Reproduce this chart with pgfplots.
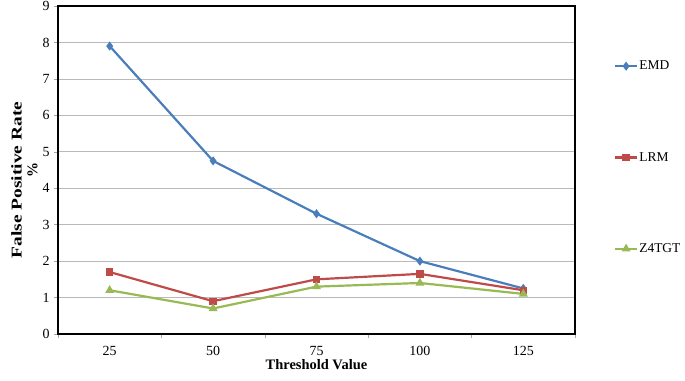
\documentclass[border=0pt]{standalone}
\usepackage{fontspec}
\setmainfont{Liberation Serif}
\usepackage{pgfplots}
\pgfplotsset{compat=1.18}
\usetikzlibrary{calc}
\definecolor{cEMD}{RGB}{74,126,187}
\definecolor{cLRM}{RGB}{190,75,72}
\definecolor{cZ}{RGB}{152,185,84}
\begin{document}
\begin{tikzpicture}
\begin{axis}[name=ax,
  scale only axis, width=517bp, height=328bp,
  xmin=-0.5, xmax=4.5, ymin=0, ymax=9,
  xtick={0,1,2,3,4}, xticklabels={25,50,75,100,125},
  minor xtick={-0.5,0.5,1.5,2.5,3.5,4.5},
  ytick={0,1,...,9},
  tick align=outside, major tick length=4bp, minor tick length=4bp,
  xtick style={draw=none}, minor x tick style={draw=gray!70, thin},
  y tick style={draw=gray!70, thin},
  axis line style={line width=2.6pt, black},
  ymajorgrids, grid style={gray!55, line width=0.6pt},
  xtick pos=bottom, ytick pos=left,
  tick label style={font=\fontsize{14}{15}\selectfont},
  /pgf/number format/assume math mode=true,
  xticklabel style={yshift=-5bp},
  yticklabel style={xshift=-1bp},
  xlabel={\textbf{Threshold Value}},
  xlabel style={font=\fontsize{14.5}{15}\selectfont, yshift=3bp},
  ylabel={\hspace*{-20bp}\scalebox{1.3}[1]{\textbf{False Positive Rate}}\\\textbf{\%}},
  ylabel style={font=\fontsize{15}{16}\selectfont, align=center, yshift=-2bp},
  legend style={at={(1.07,0.845)}, anchor=north west, draw=none, fill=none,
    row sep=77bp, font=\fontsize{13.5}{14}\selectfont,
    nodes={inner xsep=1.5bp}},
  legend cell align=left,
  legend image code/.code={\draw[#1,mark=none] (0cm,0cm) -- (0.75cm,0cm); \draw[#1,only marks] plot coordinates {(0.375cm,0cm)};},
]
\addplot[cEMD, line width=2.2pt, mark=diamond*, mark size=2.8pt]
  coordinates {(0,7.9) (1,4.75) (2,3.3) (3,2.0) (4,1.25)};
\addlegendentry{EMD}
\addplot[cLRM, line width=2.2pt, mark=square*, mark size=2.6pt]
  coordinates {(0,1.7) (1,0.9) (2,1.5) (3,1.65) (4,1.2)};
\addlegendentry{LRM}
\addplot[cZ, line width=2.2pt, mark=triangle*, mark size=3pt]
  coordinates {(0,1.2) (1,0.7) (2,1.3) (3,1.4) (4,1.1)};
\addlegendentry{Z4TGT}
\end{axis}
\pgfresetboundingbox
\path[use as bounding box] ($(ax.south west)+(-58bp,-47bp)$) rectangle ($(ax.south west)+(627bp,334bp)$);
\end{tikzpicture}
\end{document}
